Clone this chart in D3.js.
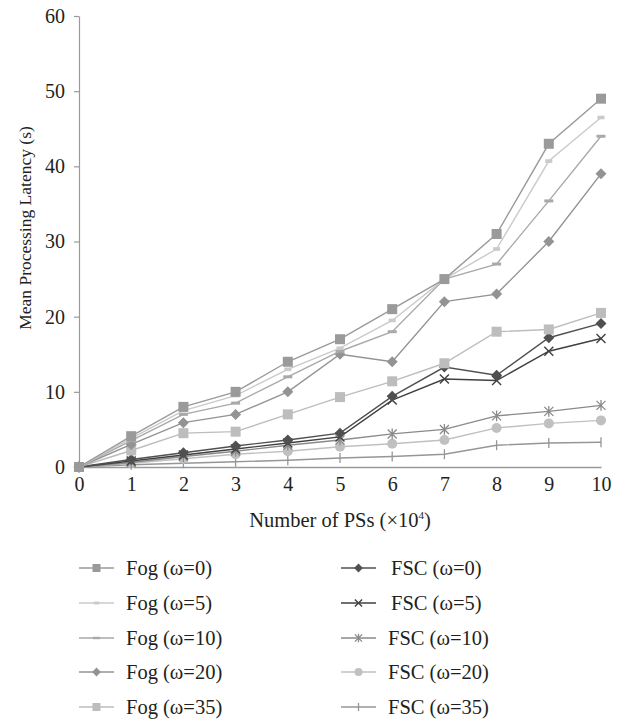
<!DOCTYPE html>
<html>
<head>
<meta charset="utf-8">
<script src="https://cdn.jsdelivr.net/npm/d3@7"></script>
<style>
  body { margin: 0; background: #fff; }
  svg text { font-family: "Liberation Serif", "Times New Roman", "DejaVu Serif", serif; fill: #231f20; }
</style>
</head>
<body>
<div id="chart"></div>
<script>
const WIDTH = 625;
const HEIGHT = 722;
const FONT = '"Liberation Serif", "Times New Roman", "DejaVu Serif", serif';

// x values (number of PSs, x10^4)
const psCounts = [0, 1, 2, 3, 4, 5, 6, 7, 8, 9, 10];
const yTicks = [0, 10, 20, 30, 40, 50, 60];

// series values
const fog0 = [0, 4.1, 8, 10, 14, 17, 21, 25, 31, 43, 49];
const fog5 = [0, 3.8, 7.5, 9.5, 13, 15.8, 19.5, 25, 29, 40.7, 46.5];
const fog10 = [0, 3.5, 7, 8.5, 12, 15.4, 18, 25, 27, 35.4, 44];
const fog20 = [0, 3, 5.9, 7, 10, 15, 14, 22, 23, 30, 39];
const fog35 = [0, 2.2, 4.5, 4.7, 7, 9.3, 11.4, 13.8, 18, 18.3, 20.5];
const fsc0 = [0, 1, 1.9, 2.8, 3.6, 4.5, 9.4, 13.3, 12.2, 17.2, 19.1];
const fsc5 = [0, 0.8, 1.6, 2.4, 3.2, 4, 8.9, 11.7, 11.5, 15.4, 17.1];
const fsc10 = [0, 0.6, 1.4, 2.1, 2.9, 3.6, 4.4, 5, 6.8, 7.4, 8.2];
const fsc20 = [0, 0.5, 1.1, 1.7, 2.1, 2.7, 3.1, 3.6, 5.2, 5.8, 6.2];
const fsc35 = [0, 0.3, 0.5, 0.7, 0.9, 1.2, 1.4, 1.7, 2.9, 3.2, 3.3];

const seriesNames = ["Fog (ω=0)", "Fog (ω=5)", "Fog (ω=10)", "Fog (ω=20)", "Fog (ω=35)",
  "FSC (ω=0)", "FSC (ω=5)", "FSC (ω=10)", "FSC (ω=20)", "FSC (ω=35)"];
const seriesValues = [fog0, fog5, fog10, fog20, fog35, fsc0, fsc5, fsc10, fsc20, fsc35];
const seriesMarkers = ["square", "dashS", "dash", "diamond", "square",
  "diamond", "cross", "asterisk", "circle", "plus"];
const seriesColors = ["#9a9a9a", "#cacaca", "#a9a9a9", "#939393", "#bdbdbd",
  "#505050", "#404040", "#8a8a8a", "#c0c0c0", "#969696"];

const series = seriesNames.map((name, i) => ({
  name: name,
  values: seriesValues[i],
  marker: seriesMarkers[i],
  color: seriesColors[i]
}));

const margin = { left: 79, right: 24, top: 16, bottom: 255 };

const svg = d3.select("#chart")
  .append("svg")
  .attr("width", WIDTH)
  .attr("height", HEIGHT);

const x = d3.scaleLinear().domain([0, 10]).range([margin.left, WIDTH - margin.right]);
const y = d3.scaleLinear().domain([0, 60]).range([HEIGHT - margin.bottom, margin.top]);

// y axis
const yAxis = svg.append("g")
  .attr("transform", `translate(${margin.left},0)`)
  .call(d3.axisLeft(y).tickValues(yTicks).tickSize(5).tickPadding(9).tickSizeOuter(0));
yAxis.attr("font-family", FONT);
yAxis.select(".domain").attr("stroke", "#9a9a9a").attr("stroke-width", 1.2);
yAxis.selectAll(".tick line").attr("stroke", "#9a9a9a").attr("stroke-width", 1.2);
yAxis.selectAll("text").style("font-size", "20px").attr("fill", "#231f20");

// x axis
const xAxis = svg.append("g")
  .attr("transform", `translate(0,${y(0)})`)
  .call(d3.axisBottom(x).tickValues(psCounts).tickSize(0).tickPadding(10).tickSizeOuter(0));
xAxis.attr("font-family", FONT);
xAxis.select(".domain").attr("stroke", "#9a9a9a").attr("stroke-width", 1.5);
xAxis.selectAll("text").style("font-size", "20px").attr("fill", "#231f20");

// axis titles
svg.append("text")
  .attr("transform", "translate(31,228) rotate(-90)")
  .attr("text-anchor", "middle")
  .style("font-size", "17.5px")
  .text("Mean Processing Latency (s)");

const xTitle = svg.append("text")
  .attr("x", x(5))
  .attr("y", 527)
  .attr("text-anchor", "middle")
  .style("font-size", "20.5px");
xTitle.append("tspan").text("Number of PSs (×10");
xTitle.append("tspan").attr("dy", -8).style("font-size", "11px").text("4");
xTitle.append("tspan").attr("dy", 8).text(")");

// draw one marker
function drawMarker(g, type, color, cx, cy, scale) {
  const s = scale || 1;
  if (type === "square") {
    g.append("rect").attr("x", cx - 5 * s).attr("y", cy - 5 * s)
      .attr("width", 10 * s).attr("height", 10 * s).attr("fill", color);
  } else if (type === "dashS") {
    g.append("rect").attr("x", cx - 3.5 * s).attr("y", cy - 1.8 * s)
      .attr("width", 7 * s).attr("height", 3.6 * s).attr("fill", color);
  } else if (type === "dash") {
    g.append("rect").attr("x", cx - 4.5 * s).attr("y", cy - 1.5 * s)
      .attr("width", 9 * s).attr("height", 3 * s).attr("fill", color);
  } else if (type === "diamond") {
    g.append("path")
      .attr("d", `M${cx},${cy - 5.5 * s}L${cx + 5.5 * s},${cy}L${cx},${cy + 5.5 * s}L${cx - 5.5 * s},${cy}Z`)
      .attr("fill", color);
  } else if (type === "circle") {
    g.append("circle").attr("cx", cx).attr("cy", cy).attr("r", 5 * s).attr("fill", color);
  } else if (type === "cross") {
    const r = 4.5 * s;
    g.append("path")
      .attr("d", `M${cx - r},${cy - r}L${cx + r},${cy + r}M${cx - r},${cy + r}L${cx + r},${cy - r}`)
      .attr("stroke", color).attr("stroke-width", 1.4).attr("fill", "none");
  } else if (type === "asterisk") {
    const r = 4.5 * s;
    g.append("path")
      .attr("d", `M${cx - r},${cy - r}L${cx + r},${cy + r}M${cx - r},${cy + r}L${cx + r},${cy - r}M${cx},${cy - r * 1.2}L${cx},${cy + r * 1.2}`)
      .attr("stroke", color).attr("stroke-width", 1.3).attr("fill", "none");
  } else if (type === "plus") {
    const r = 5 * s;
    g.append("path")
      .attr("d", `M${cx},${cy - r}L${cx},${cy + r}`)
      .attr("stroke", color).attr("stroke-width", 1.3).attr("fill", "none");
  }
}

const line = d3.line()
  .x((d, i) => x(psCounts[i]))
  .y(d => y(d));

// lines, drawn back to front so the dark FSC lines sit on top
const plot = svg.append("g").attr("class", "series");
series.slice().reverse().forEach(s => {
  const g = plot.append("g");
  g.append("path")
    .datum(s.values)
    .attr("d", line)
    .attr("fill", "none")
    .attr("stroke", s.color)
    .attr("stroke-width", 1.4);
  s.values.forEach((v, i) => {
    drawMarker(g, s.marker, s.color, x(psCounts[i]), y(v), 1);
  });
});

// legend
const legendRows = [568, 603, 638, 672, 707];
const legend = svg.append("g").attr("class", "legend");
series.forEach((s, i) => {
  const col = i < 5 ? 0 : 1;
  const row = i % 5;
  const lx = col === 0 ? 79 : 341;
  const ly = legendRows[row];
  const g = legend.append("g");
  g.append("line")
    .attr("x1", lx).attr("x2", lx + 35)
    .attr("y1", ly).attr("y2", ly)
    .attr("stroke", s.color).attr("stroke-width", 1.4);
  drawMarker(g, s.marker, s.color, lx + 17.5, ly, 0.8);
  g.append("text")
    .attr("x", col === 0 ? 126 : (row < 2 ? 391 : 388))
    .attr("y", ly)
    .attr("dy", "0.33em")
    .style("font-size", "20.5px")
    .text(s.name);
});
</script>
</body>
</html>
